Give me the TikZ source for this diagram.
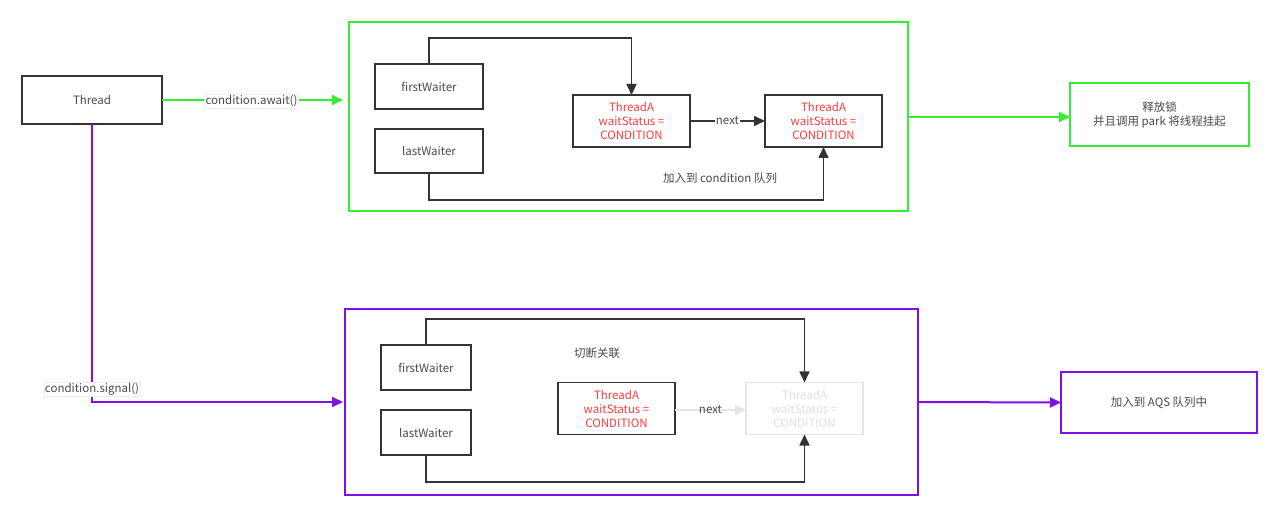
\documentclass[tikz,border=0pt]{standalone}
\usepackage{fontspec}
\setmainfont{Noto Sans CJK SC}
\usetikzlibrary{arrows.meta,positioning}
\definecolor{gline}{HTML}{33EE33}
\definecolor{pline}{HTML}{7F10E8}
\definecolor{redt}{HTML}{FF3B3B}
\definecolor{dgray}{HTML}{333333}
\definecolor{tgray}{HTML}{4A4A4A}
\tikzset{
  box/.style={draw=dgray, line width=1.6pt, inner sep=0pt, outer sep=0pt, align=center, text=tgray, font=\fontsize{11.5}{14}\selectfont},
  tbox/.style={box, text=redt, minimum width=117pt, minimum height=52pt},
  fbox/.style={box, draw=gray!20, text=gray!25, minimum width=117pt, minimum height=52pt},
  gcont/.style={draw=gline, line width=2pt, inner sep=0pt, outer sep=0pt},
  pcont/.style={draw=pline, line width=2pt, inner sep=0pt, outer sep=0pt},
  tip/.style={-{Triangle[length=11pt,width=10pt]}},
  karr/.style={tip, draw=dgray, line width=1.6pt},
  garr/.style={tip, draw=gline, line width=2pt},
  parr/.style={tip, draw=pline, line width=2pt},
  lbl/.style={text=tgray, font=\fontsize{11.5}{14}\selectfont, inner sep=1pt},
  tagl/.style={lbl, fill=white, draw=gray!15, line width=0.5pt}
}
\begin{document}
\begin{tikzpicture}[x=1pt,y=-1pt]
\useasboundingbox[fill=white] (0,0) rectangle (1280,518);
% Thread
\node[box, minimum width=140pt, minimum height=48pt] (thread) at (92,100) {Thread};
% top container
\node[gcont, minimum width=559pt, minimum height=189pt] (c1) at (628.5,116.5) {};
\node[box, minimum width=108pt, minimum height=45pt] (fw1) at (429,86.5) {firstWaiter};
\node[box, minimum width=108pt, minimum height=44pt] (lw1) at (429,151) {lastWaiter};
\node[tbox] (ta1) at (631.5,121) {ThreadA\\waitStatus =\\CONDITION};
\node[tbox] (tb1) at (823.5,121) {ThreadA\\waitStatus =\\CONDITION};
\draw[karr] (fw1.north) -- ++(0,-26) -| (ta1.north);
\draw[karr] (lw1.south) -- ++(0,27) -| (tb1.south);
\draw[karr] (ta1.east) -- node[lbl, fill=white] (nx1) {next} (tb1.west);
\node[lbl] (q1) at (720,178) {加入到 condition 队列};
\node[box, draw=gline, line width=2pt, minimum width=179pt, minimum height=63pt] (r1) at (1159.5,114.5) {释放锁\\并且调用 park 将线程挂起};
\draw[garr] (thread.east) -- (thread.east -| c1.west) [shorten >=6pt];
\node[tagl] (aw) at (251.5,101) {condition.await()};
\draw[garr] (c1.east |- 0,117) -- (r1.west |- 0,117);
% bottom container
\node[pcont, minimum width=573pt, minimum height=186pt] (c2) at (631.5,402) {};
\node[box, minimum width=90pt, minimum height=45pt] (fw2) at (426,367.5) {firstWaiter};
\node[box, minimum width=90pt, minimum height=45pt] (lw2) at (426,432.5) {lastWaiter};
\node[tbox] (ta2) at (616.5,408.5) {ThreadA\\waitStatus =\\CONDITION};
\node[fbox] (tb2) at (804.5,408.5) {ThreadA\\waitStatus =\\CONDITION};
\draw[karr] (fw2.north) -- ++(0,-26) -| (tb2.north);
\draw[karr] (lw2.south) -- ++(0,27) -| (tb2.south);
\draw[tip, draw=gray!20, line width=1.5pt] (ta2.east |- 0,410) -- node[lbl] (nx2) {next} (tb2.west |- 0,410);
\node[lbl] (cut) at (597,353) {切断关联};
\node[box, draw=pline, line width=2pt, minimum width=196pt, minimum height=61pt] (r2) at (1159,402.5) {加入到 AQS 队列中};
\draw[parr] (thread.south) |- (c2.west) [shorten >=2pt];
\node[tagl] (sg) at (92,389) {condition.signal()};
\draw[parr] (c2.east) -- (r2.west);
\end{tikzpicture}
\end{document}
